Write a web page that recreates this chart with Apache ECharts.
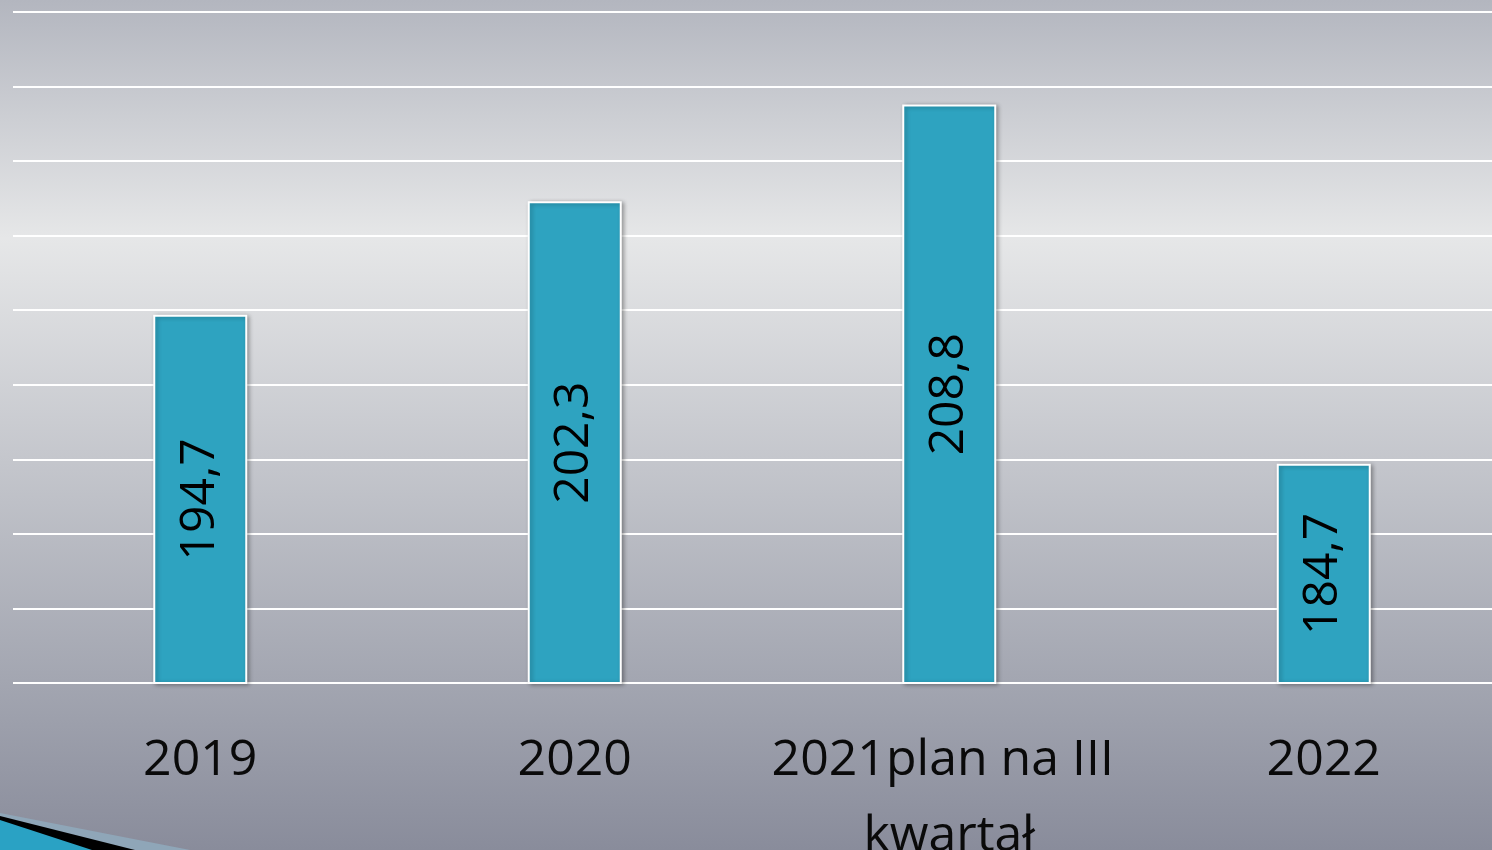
<!DOCTYPE html>
<html>
<head>
<meta charset="utf-8">
<script src="https://cdn.jsdelivr.net/npm/echarts@6/dist/echarts.min.js"></script>
<style>
  html, body { margin: 0; padding: 0; }
  #chart { width: 1492px; height: 850px; }
</style>
</head>
<body>
<div id="chart"></div>
<script>
// dane z wykresu
var categories = ['2019', '2020', '2021plan na III kwartał', '2022']
var values = [194.7, 202.3, 208.8, 184.7]

var chart = echarts.init(document.getElementById('chart'))

var option = {
  backgroundColor: {
    type: 'linear', x: 0, y: 0, x2: 0, y2: 1,
    colorStops: [
      { offset: 0, color: '#b3b6bf' },
      { offset: 0.28, color: '#e6e7e8' },
      { offset: 0.8, color: '#a3a6b1' },
      { offset: 1, color: '#898c9b' }
    ]
  },
  grid: {
    left: 13,
    right: -19,
    top: 12,
    bottom: 167,
    outerBoundsMode: 'none'
  },
  xAxis: {
    type: 'category',
    data: categories,
    axisLine: { show: false },
    axisTick: { show: false },
    axisLabel: {
      interval: 0,
      margin: 40,
      fontFamily: 'Open Sans',
      fontSize: 50,
      color: '#0a0a0a',
      lineHeight: 76,
      width: 370,
      overflow: 'break'
    }
  },
  yAxis: {
    type: 'value',
    min: 170,
    max: 215,
    interval: 5,
    axisLabel: { show: false },
    axisLine: { show: false },
    axisTick: { show: false },
    splitLine: { lineStyle: { color: '#ffffff', width: 2 } }
  },
  series: [{
    type: 'bar',
    data: values,
    barWidth: 94,
    itemStyle: {
      color: '#2ea3c0',
      borderColor: '#ffffff',
      borderWidth: 2,
      shadowBlur: 4,
      shadowOffsetX: 2,
      shadowOffsetY: 1,
      shadowColor: 'rgba(0,0,0,0.3)'
    },
    label: {
      show: true,
      position: 'inside',
      rotate: 90,
      fontFamily: 'Open Sans',
      fontSize: 48,
      color: '#000',
      formatter: function (p) {
        return String(p.value).replace('.', ',')
      }
    }
  }],
  graphic: [
    { type: 'polygon', shape: { points: [[0, 813], [190, 850], [0, 850]] }, style: { fill: '#8fa6b8' } },
    { type: 'polygon', shape: { points: [[0, 816], [135, 850], [0, 850]] }, style: { fill: '#000' } },
    { type: 'polygon', shape: { points: [[0, 820], [92, 850], [0, 850]] }, style: { fill: '#2aa2c4' } }
  ]
}

chart.setOption(option)
</script>
</body>
</html>
